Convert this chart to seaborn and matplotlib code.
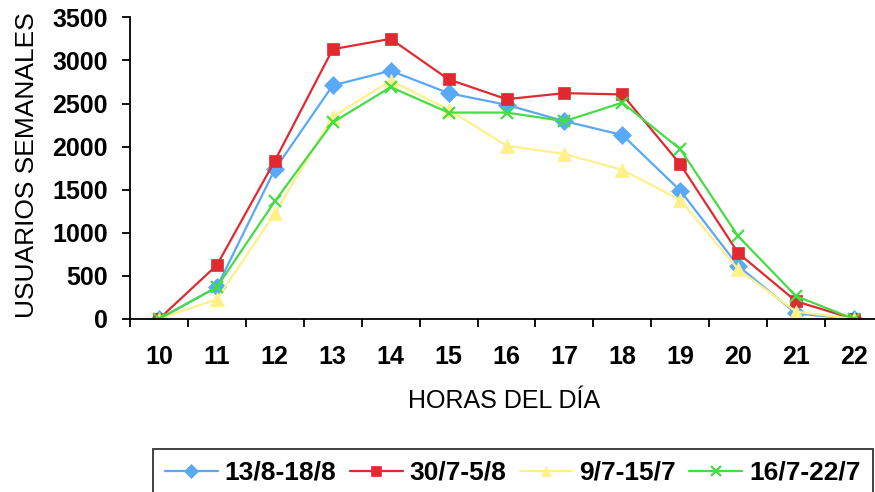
import matplotlib
matplotlib.use("Agg")
import matplotlib.pyplot as plt
import seaborn as sns
import pandas as pd
from matplotlib.ticker import MultipleLocator

hours = [10, 11, 12, 13, 14, 15, 16, 17, 18, 19, 20, 21, 22]
series_names = ["13/8-18/8", "30/7-5/8", "9/7-15/7", "16/7-22/7"]
s_13_8 = [0, 370, 1735, 2710, 2880, 2620, 2485, 2295, 2135, 1490, 615, 65, 0]
s_30_7 = [0, 625, 1835, 3130, 3250, 2780, 2550, 2620, 2605, 1795, 765, 205, 0]
s_9_7 = [0, 230, 1225, 2345, 2765, 2430, 2010, 1915, 1730, 1380, 575, 85, 0]
s_16_7 = [0, 370, 1365, 2280, 2690, 2395, 2395, 2295, 2510, 1970, 960, 265, 0]
y_ticks = [0, 500, 1000, 1500, 2000, 2500, 3000, 3500]

colors = ["#5aa8f8", "#e02a30", "#fff08a", "#44dd44"]
markers = ["D", "s", "^", "x"]
msizes = [9, 8.5, 10, 8]

sns.set_theme(style="white")
plt.rcParams["font.family"] = ["Liberation Sans", "DejaVu Sans"]

fig = plt.figure(figsize=(8.75, 4.92), dpi=100)
ax = fig.add_axes([130 / 875, 1 - 319 / 492, 753 / 875, (319 - 17.3) / 492])

for name, vals, c, m, ms in zip(series_names, [s_13_8, s_30_7, s_9_7, s_16_7],
                                colors, markers, msizes):
    d = pd.DataFrame({"hora": hours, "usuarios": vals})
    mew = 1.6 if m == "x" else 0.5
    sns.lineplot(data=d, x="hora", y="usuarios", color=c, marker=m,
                 markersize=ms, linewidth=1.6, label=name, ax=ax,
                 markeredgewidth=mew, markeredgecolor=c, markerfacecolor=c)

handles, labels = ax.get_legend_handles_labels()
if ax.get_legend() is not None:
    ax.get_legend().remove()

ax.set_xlim(9.5, 22.5)
ax.set_ylim(0, 3500)
ax.set_xticks(hours)
ax.set_xticklabels([str(h) for h in hours])
ax.xaxis.set_minor_locator(MultipleLocator(1, offset=0.5))
ax.set_yticks(y_ticks)
ax.set_yticklabels([str(t) for t in y_ticks])

for s in ["top", "right"]:
    ax.spines[s].set_visible(False)
for s in ["left", "bottom"]:
    ax.spines[s].set_color("black")
    ax.spines[s].set_linewidth(1.3)

ax.tick_params(axis="x", which="major", length=0, pad=19, labelsize=18)
ax.tick_params(axis="x", which="minor", length=6, width=1.3, color="black",
               direction="out", bottom=True)
ax.tick_params(axis="y", which="major", length=6, width=1.3, color="black",
               direction="out", left=True, pad=10, labelsize=18)
for lab in ax.get_xticklabels() + ax.get_yticklabels():
    lab.set_fontweight("bold")
    lab.set_color("black")

ax.set_xlabel("HORAS DEL DÍA", fontsize=18, color="black")
ax.set_ylabel("USUARIOS SEMANALES", fontsize=19, color="black")
ax.xaxis.set_label_coords((504.5 - 130) / 753, (319 - 389) / 301.7)
ax.yaxis.set_label_coords((39 - 130) / 753, (319 - 165) / 301.7)

leg = fig.legend(handles, labels, loc="upper left", ncol=4,
                 bbox_to_anchor=(153 / 875, 1 - 449 / 492),
                 prop={"weight": "bold", "size": 19},
                 frameon=True, fancybox=False, edgecolor="black",
                 handlelength=2.0, handletextpad=0.27, columnspacing=0.5,
                 borderpad=0.45, borderaxespad=0)
leg.get_frame().set_linewidth(1.3)
for t in leg.get_texts():
    t.set_color("black")
for h in leg.legend_handles:
    h.set_markersize(7)

fig.savefig("out.png", dpi=100)
